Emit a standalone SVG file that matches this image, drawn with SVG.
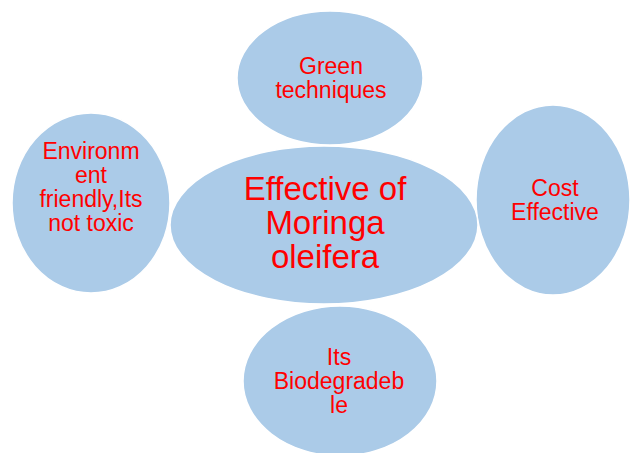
<svg xmlns="http://www.w3.org/2000/svg" width="631" height="453" viewBox="0 0 631 453">
<style>
.n{fill:#abcbe8;stroke:#ffffff;stroke-width:1.5}
text{font-family:"Liberation Sans",Arial,sans-serif;fill:#ff0000;text-anchor:middle}
.s{font-size:23px}
.b{font-size:33px}
</style>
<rect width="631" height="453" fill="#ffffff"/>
<g id="connectors"></g>
<g id="top">
<ellipse class="n" cx="330" cy="78" rx="93" ry="67"/>
<text class="s" x="331" y="74">Green</text>
<text class="s" x="331" y="98">techniques</text>
</g>
<g id="left">
<ellipse class="n" cx="91" cy="203" rx="79" ry="90"/>
<text class="s" x="91" y="159">Environm</text>
<text class="s" x="91" y="183">ent</text>
<text class="s" x="91" y="207">friendly,Its</text>
<text class="s" x="91" y="231">not toxic</text>
</g>
<g id="right">
<ellipse class="n" cx="553" cy="200" rx="77" ry="95"/>
<text class="s" x="555" y="196">Cost</text>
<text class="s" x="555" y="220">Effective</text>
</g>
<g id="bottom">
<ellipse class="n" cx="340" cy="381" rx="97" ry="75"/>
<text class="s" x="339" y="365">Its</text>
<text class="s" x="339" y="389">Biodegradeb</text>
<text class="s" x="339" y="413">le</text>
</g>
<g id="center">
<ellipse class="n" cx="324" cy="225" rx="154" ry="79"/>
<text class="b" x="325" y="200">Effective of</text>
<text class="b" x="325" y="234">Moringa</text>
<text class="b" x="325" y="268">oleifera</text>
</g>
</svg>
